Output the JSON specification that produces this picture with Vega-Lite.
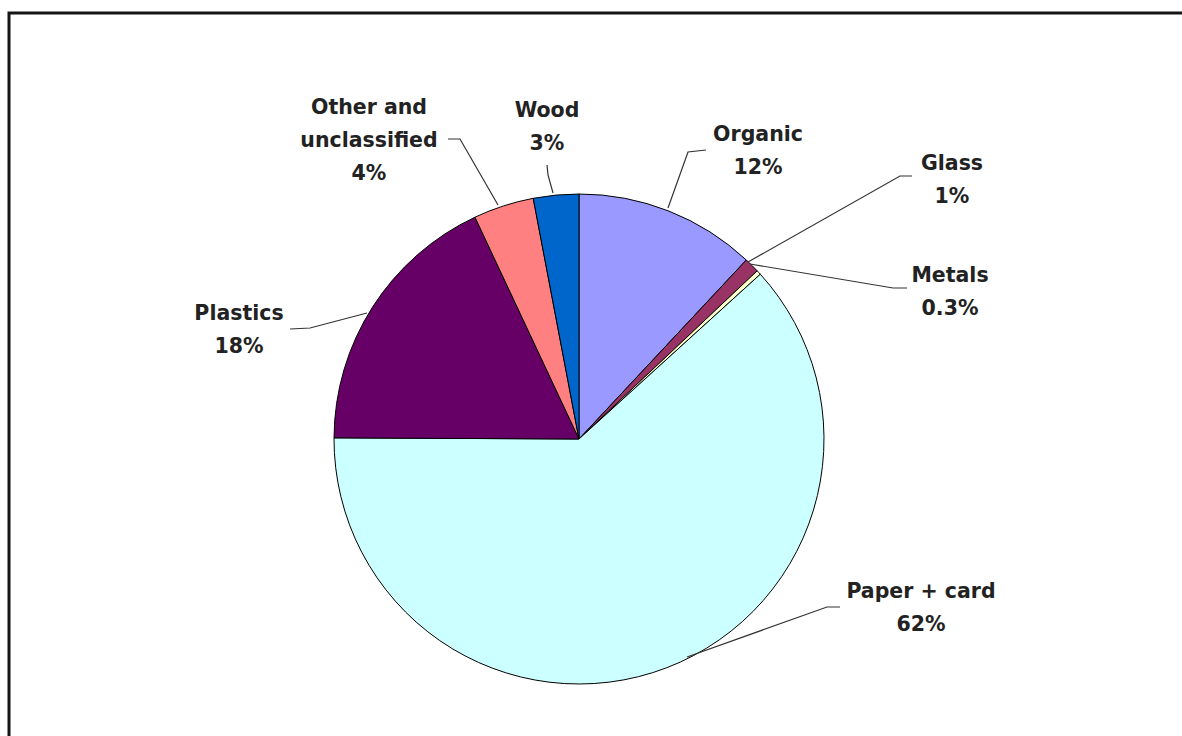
{
  "$schema": "https://vega.github.io/schema/vega-lite/v6.json",
  "width": 1400,
  "height": 800,
  "autosize": {"type": "none"},
  "padding": {"left": 9, "top": 13, "right": -227, "bottom": -77},
  "background": "white",
  "config": {"view": {"stroke": "#151515", "strokeWidth": 3}},
  "datasets": {
    "slices": [
      {"category": "Organic", "value": 12, "order": 1},
      {"category": "Glass", "value": 1, "order": 2},
      {"category": "Metals", "value": 0.3, "order": 3},
      {"category": "Paper + card", "value": 62, "order": 4},
      {"category": "Plastics", "value": 18, "order": 5},
      {"category": "Other and unclassified", "value": 4, "order": 6},
      {"category": "Wood", "value": 3, "order": 7}
    ],
    "leaders": [
      {"category": "Organic", "seq": 1, "px": 89, "py": 231},
      {"category": "Organic", "seq": 2, "px": 109, "py": 287},
      {"category": "Organic", "seq": 3, "px": 127, "py": 289},
      {"category": "Glass", "seq": 1, "px": 169, "py": 177},
      {"category": "Glass", "seq": 2, "px": 321, "py": 263},
      {"category": "Glass", "seq": 3, "px": 333, "py": 263},
      {"category": "Metals", "seq": 1, "px": 171, "py": 175},
      {"category": "Metals", "seq": 2, "px": 314, "py": 151},
      {"category": "Metals", "seq": 3, "px": 328, "py": 151},
      {"category": "Paper + card", "seq": 1, "px": 108, "py": -218},
      {"category": "Paper + card", "seq": 2, "px": 248, "py": -168},
      {"category": "Paper + card", "seq": 3, "px": 261, "py": -168},
      {"category": "Plastics", "seq": 1, "px": -212, "py": 126},
      {"category": "Plastics", "seq": 2, "px": -269, "py": 111},
      {"category": "Plastics", "seq": 3, "px": -289, "py": 110},
      {"category": "Other and unclassified", "seq": 1, "px": -81, "py": 234},
      {"category": "Other and unclassified", "seq": 2, "px": -119, "py": 300},
      {"category": "Other and unclassified", "seq": 3, "px": -131, "py": 300},
      {"category": "Wood", "seq": 1, "px": -26, "py": 246},
      {"category": "Wood", "seq": 2, "px": -31, "py": 264},
      {"category": "Wood", "seq": 3, "px": -32, "py": 274}
    ],
    "labels": [
      {"category": "Organic", "text": "Organic\n12%", "lx": 179, "ly": 298},
      {"category": "Glass", "text": "Glass\n1%", "lx": 373, "ly": 269},
      {"category": "Metals", "text": "Metals\n0.3%", "lx": 371, "ly": 157},
      {"category": "Paper + card", "text": "Paper + card\n62%", "lx": 342, "ly": -159},
      {"category": "Plastics", "text": "Plastics\n18%", "lx": -340, "ly": 119},
      {"category": "Other and unclassified", "text": "Other and\nunclassified\n4%", "lx": -210, "ly": 325},
      {"category": "Wood", "text": "Wood\n3%", "lx": -32, "ly": 322}
    ]
  },
  "layer": [
    {
      "data": {"name": "slices"},
      "mark": {"type": "arc", "radius": 245, "stroke": "#000000", "strokeWidth": 1},
      "encoding": {
        "theta": {"field": "value", "type": "quantitative", "stack": true},
        "order": {"field": "order", "type": "quantitative"},
        "color": {
          "field": "category",
          "type": "nominal",
          "legend": null,
          "scale": {
            "domain": ["Organic", "Glass", "Metals", "Paper + card", "Plastics", "Other and unclassified", "Wood"],
            "range": ["#9999FF", "#993366", "#FFFFCC", "#CCFFFF", "#660066", "#FF8080", "#0066CC"]
          }
        },
        "x": {"datum": 0, "type": "quantitative", "axis": null, "scale": {"domain": [-570, 830], "nice": false, "zero": false}},
        "y": {"datum": 0, "type": "quantitative", "axis": null, "scale": {"domain": [-374, 426], "nice": false, "zero": false}}
      }
    },
    {
      "data": {"name": "leaders"},
      "mark": {"type": "line", "stroke": "#333333", "strokeWidth": 1.2},
      "encoding": {
        "x": {"field": "px", "type": "quantitative", "axis": null, "scale": {"domain": [-570, 830], "nice": false, "zero": false}},
        "y": {"field": "py", "type": "quantitative", "axis": null, "scale": {"domain": [-374, 426], "nice": false, "zero": false}},
        "detail": {"field": "category", "type": "nominal"},
        "order": {"field": "seq", "type": "quantitative"}
      }
    },
    {
      "data": {"name": "labels"},
      "mark": {"type": "text", "align": "center", "baseline": "alphabetic", "font": "DejaVu Sans", "fontWeight": "bold", "fontSize": 20.5, "lineHeight": 33, "lineBreak": "\n", "color": "#222222"},
      "encoding": {
        "x": {"field": "lx", "type": "quantitative", "axis": null, "scale": {"domain": [-570, 830], "nice": false, "zero": false}},
        "y": {"field": "ly", "type": "quantitative", "axis": null, "scale": {"domain": [-374, 426], "nice": false, "zero": false}},
        "text": {"field": "text", "type": "nominal"}
      }
    }
  ]
}
